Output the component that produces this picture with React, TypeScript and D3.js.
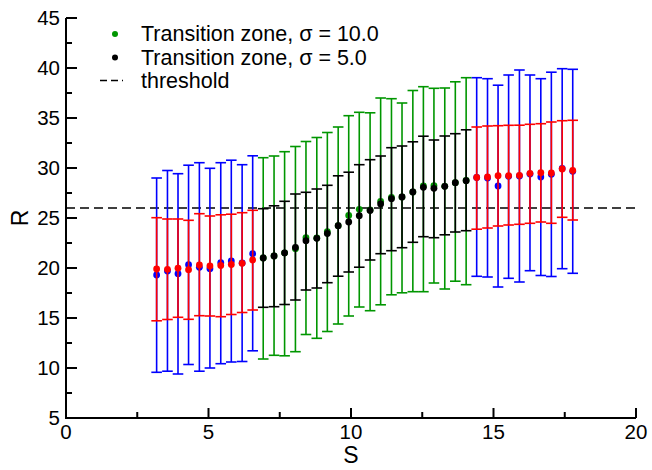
import React from "react";
import * as d3 from "d3";

// S positions of the samples outside the transition zone (blue / red series)
const sOuter = [
  3.18, 3.56, 3.93, 4.3, 4.68, 5.05, 5.43, 5.8, 6.18, 6.55,
  14.41, 14.79, 15.16, 15.53, 15.91, 16.28, 16.66, 17.03, 17.41, 17.78,
];
// S positions inside the transition zone (green / black series)
const sInner = [
  6.92, 7.3, 7.67, 8.05, 8.42, 8.8, 9.17, 9.55, 9.92, 10.29,
  10.67, 11.04, 11.42, 11.79, 12.17, 12.54, 12.91, 13.29, 13.66, 14.04,
];

// sigma = 10, outside transition zone (blue)
const blueMean = [
  19.3, 19.7, 19.43, 20.33, 20.07, 19.93, 20.53, 20.7, 20.5, 21.43,
  29.05, 29.0, 28.2, 29.17, 29.2, 29.4, 29.1, 29.37, 29.95, 29.67,
];
const blueHigh = [
  29.0, 29.75, 29.43, 30.28, 30.53, 29.97, 30.53, 30.78, 30.33, 31.22,
  39.03, 38.93, 38.28, 39.3, 39.8, 39.3, 38.93, 39.58, 39.93, 39.87,
];
const blueLow = [
  9.57, 9.68, 9.4, 10.35, 9.68, 10.0, 10.43, 10.6, 10.65, 11.72,
  19.17, 19.1, 18.1, 18.97, 18.6, 19.73, 19.25, 19.15, 19.93, 19.47,
];

// sigma = 5, outside transition zone (red)
const redMean = [
  19.9, 19.87, 19.98, 19.83, 20.3, 20.2, 20.25, 20.35, 20.47, 20.8,
  29.05, 29.1, 29.23, 29.23, 29.27, 29.47, 29.53, 29.5, 29.9, 29.75,
];
const redHigh = [
  25.03, 24.9, 24.9, 24.77, 25.43, 25.2, 25.32, 25.38, 25.53, 25.77,
  34.1, 34.2, 34.23, 34.27, 34.28, 34.37, 34.43, 34.6, 34.73, 34.77,
];
const redLow = [
  14.72, 14.85, 15.07, 14.87, 15.23, 15.2, 15.13, 15.35, 15.55, 15.8,
  23.88, 24.0, 24.2, 24.3, 24.37, 24.47, 24.6, 24.47, 25.07, 24.8,
];

// Transition zone, sigma = 10 (green)
const greenMean = [
  21.0, 21.2, 21.5, 21.93, 23.03, 23.0, 23.63, 24.23, 25.25, 25.87,
  25.8, 26.65, 27.05, 27.1, 27.6, 28.2, 28.23, 28.17, 28.53, 28.75,
];
const greenHigh = [
  31.03, 31.2, 31.63, 32.15, 32.65, 33.05, 33.55, 34.1, 35.23, 35.57,
  35.52, 37.0, 36.93, 36.5, 37.75, 38.13, 37.97, 38.0, 38.62, 39.03,
];
const greenLow = [
  10.9, 11.27, 11.22, 11.63, 13.35, 12.97, 13.65, 14.4, 15.2, 16.1,
  15.73, 16.32, 17.32, 17.52, 17.63, 17.63, 18.5, 17.9, 18.68, 18.33,
];

// Transition zone, sigma = 5 (black)
const blackMean = [
  21.0, 21.2, 21.5, 22.05, 22.73, 22.97, 23.45, 24.23, 24.6, 25.23,
  25.75, 26.4, 26.93, 27.1, 27.6, 28.07, 27.97, 28.17, 28.53, 28.73,
];
const blackHigh = [
  25.93, 26.22, 26.67, 27.4, 27.57, 27.9, 28.27, 29.22, 29.58, 30.33,
  30.83, 31.2, 32.03, 32.2, 32.62, 33.18, 32.8, 33.2, 33.43, 33.82,
];
const blackLow = [
  16.07, 16.13, 16.35, 16.8, 17.8, 18.0, 18.53, 19.18, 19.6, 20.08,
  20.8, 21.43, 21.73, 22.03, 22.57, 23.13, 23.03, 23.32, 23.6, 23.73,
];

const threshold = 26;
const xTicks = [0, 5, 10, 15, 20];
const yTicks = [5, 10, 15, 20, 25, 30, 35, 40, 45];
const legendLabels = ["Transition zone, \u03c3 = 10.0", "Transition zone, \u03c3 = 5.0", "threshold"];

const W = 652;
const H = 470;
const FONT = "'Liberation Sans', Arial, Helvetica, sans-serif";
const GREEN = "#009600";

const x = d3.scaleLinear().domain([0, 20]).range([66, 636]);
const y = d3.scaleLinear().domain([5, 45]).range([418, 18]);

type Series = {
  s: number[];
  mean: number[];
  high: number[];
  low: number[];
  color: string;
};

const series: Series[] = [
  { s: sOuter, mean: blueMean, high: blueHigh, low: blueLow, color: "#0000ff" },
  { s: sInner, mean: greenMean, high: greenHigh, low: greenLow, color: GREEN },
  { s: sOuter, mean: redMean, high: redHigh, low: redLow, color: "#ff0000" },
  { s: sInner, mean: blackMean, high: blackHigh, low: blackLow, color: "#000000" },
];

const CAP = 5.3;

function ErrorSeries({ d }: { d: Series }) {
  return (
    <g>
      {d.s.map((sv, i) => {
        const cx = x(sv);
        const yh = y(d.high[i]);
        const yl = y(d.low[i]);
        return (
          <g key={i} stroke={d.color} strokeWidth={1.6} fill="none">
            <line x1={cx} x2={cx} y1={yh} y2={yl} />
            <line x1={cx - CAP} x2={cx + CAP} y1={yh} y2={yh} />
            <line x1={cx - CAP} x2={cx + CAP} y1={yl} y2={yl} />
          </g>
        );
      })}
      {d.s.map((sv, i) => (
        <circle key={"p" + i} cx={x(sv)} cy={y(d.mean[i])} r={3.4} fill={d.color} />
      ))}
    </g>
  );
}

export default function App() {
  const xMinor = d3.range(0, 20.01, 2.5);
  const yMinor = d3.range(5, 45.01, 2.5);
  return (
    <svg
      width={W}
      height={H}
      style={{ position: "absolute", left: 0, top: 0, background: "#fff" }}
      fontFamily={FONT}
    >
      {/* threshold */}
      <line
        x1={x(0)}
        x2={x(20)}
        y1={y(threshold)}
        y2={y(threshold)}
        stroke="#000"
        strokeWidth={1.5}
        strokeDasharray="9,5"
      />

      {series.map((d, k) => (
        <ErrorSeries key={k} d={d} />
      ))}

      {/* axes */}
      <g stroke="#000" strokeWidth={2}>
        <line x1={x(0)} x2={x(20)} y1={y(5)} y2={y(5)} />
        <line x1={x(0)} x2={x(0)} y1={y(5) + 1} y2={y(45)} />
        {xMinor.map((v) => {
          const major = v % 5 === 0;
          return (
            <line key={"xt" + v} x1={x(v)} x2={x(v)} y1={y(5)} y2={y(5) - (major ? 10 : 6)} />
          );
        })}
        {yMinor.map((v) => {
          const major = v % 5 === 0;
          return (
            <line key={"yt" + v} x1={x(0)} x2={x(0) + (major ? 11 : 6)} y1={y(v)} y2={y(v)} />
          );
        })}
      </g>

      <g fontSize={20.5} fill="#000">
        {xTicks.map((v) => (
          <text key={"xl" + v} x={x(v)} y={y(5) + 21} textAnchor="middle">
            {v}
          </text>
        ))}
        {yTicks.map((v) => (
          <text key={"yl" + v} x={x(0) - 6} y={y(v) + 7} textAnchor="end">
            {v}
          </text>
        ))}
      </g>

      <text x={x(10)} y={463} fontSize={23} textAnchor="middle">
        S
      </text>
      <text
        transform={`translate(28, ${y(25)}) rotate(-90)`}
        fontSize={23}
        textAnchor="middle"
      >
        R
      </text>

      {/* legend */}
      <g fontSize={21.5} fill="#000">
        <circle cx={115} cy={34} r={3} fill={GREEN} />
        <text x={141} y={41}>{legendLabels[0]}</text>
        <circle cx={115} cy={57.5} r={3} fill="#000" />
        <text x={141} y={64.5}>{legendLabels[1]}</text>
        <line
          x1={100}
          x2={123}
          y1={80.5}
          y2={80.5}
          stroke="#000"
          strokeWidth={1.5}
          strokeDasharray="7,4"
        />
        <text x={141} y={88}>{legendLabels[2]}</text>
      </g>
    </svg>
  );
}
